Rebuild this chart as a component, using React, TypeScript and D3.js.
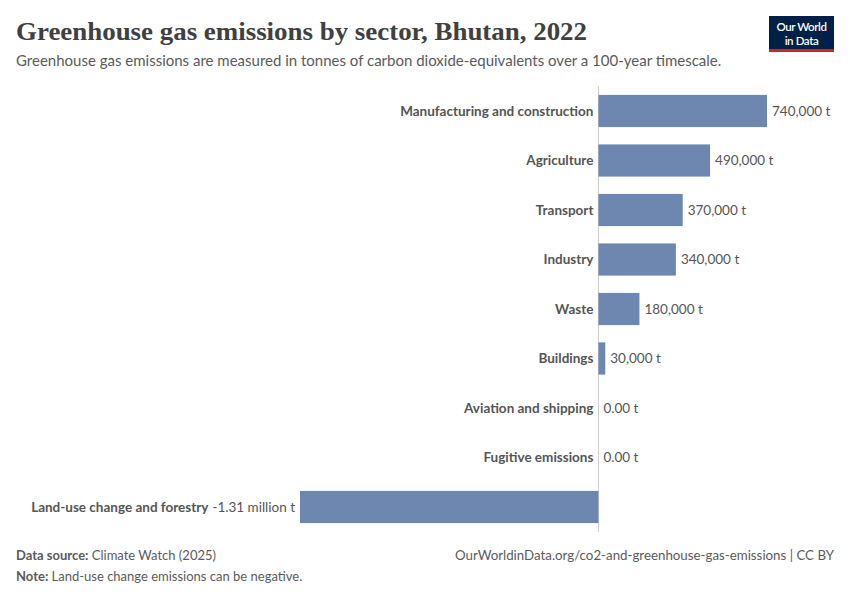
import * as d3 from 'd3'
import { useEffect, useRef } from 'react'

const sectors = [
  'Manufacturing and construction',
  'Agriculture',
  'Transport',
  'Industry',
  'Waste',
  'Buildings',
  'Aviation and shipping',
  'Fugitive emissions',
  'Land-use change and forestry',
]
const emissions = [740000, 490000, 370000, 340000, 180000, 30000, 0, 0, -1310000]
const valueLabels = [
  '740,000 t', '490,000 t', '370,000 t', '340,000 t', '180,000 t',
  '30,000 t', '0.00 t', '0.00 t', '-1.31 million t',
]

const W = 850, H = 600
const barColor = '#6d87b1'
const textColor = '#555'

export default function App() {
  const ref = useRef<SVGSVGElement | null>(null)

  useEffect(() => {
    if (!ref.current) return
    const svg = d3.select(ref.current)
    svg.selectAll('*').remove()

    // header
    svg.append('text').attr('x', 16).attr('y', 40)
      .attr('font-family', '"Liberation Serif", serif').attr('font-size', 26)
      .attr('font-weight', 700).attr('fill', '#404040')
      .attr('textLength', 571).attr('lengthAdjust', 'spacingAndGlyphs')
      .text('Greenhouse gas emissions by sector, Bhutan, 2022')
    svg.append('text').attr('x', 16).attr('y', 66)
      .attr('font-family', 'Lato, sans-serif').attr('font-size', 15)
      .attr('fill', '#5b5b5b')
      .text('Greenhouse gas emissions are measured in tonnes of carbon dioxide-equivalents over a 100-year timescale.')

    // logo
    const logo = svg.append('g').attr('transform', 'translate(769,16)')
    logo.append('rect').attr('width', 65).attr('height', 36).attr('fill', '#002147')
    logo.append('rect').attr('y', 33).attr('width', 65).attr('height', 3).attr('fill', '#ce261e')
    logo.append('text').attr('x', 32.5).attr('y', 15).attr('text-anchor', 'middle')
      .attr('font-family', 'Lato, sans-serif').attr('font-size', 11.5).attr('font-weight', 600)
      .attr('fill', '#fff').attr('letter-spacing', -0.4).text('Our World')
    logo.append('text').attr('x', 32.5).attr('y', 28.5).attr('text-anchor', 'middle')
      .attr('font-family', 'Lato, sans-serif').attr('font-size', 11.5).attr('font-weight', 600)
      .attr('fill', '#fff').attr('letter-spacing', -0.4).text('in Data')

    // chart
    const x = d3.scaleLinear().domain([-1310000, 740000]).range([300, 767])
    const y = d3.scaleBand().domain(sectors).range([86, 532]).paddingInner(0.35).paddingOuter(0.18)

    const g = svg.append('g')
    g.append('line').attr('x1', x(0)).attr('x2', x(0)).attr('y1', 86).attr('y2', 532)
      .attr('stroke', '#ccc').attr('stroke-width', 1)

    const fs = 13.5
    sectors.forEach((s, i) => {
      const v = emissions[i]
      const y0 = y(s) ?? 0
      const bh = y.bandwidth()
      const cy = y0 + bh / 2
      const x0 = Math.min(x(0), x(v)), x1 = Math.max(x(0), x(v))
      if (x1 - x0 > 0) {
        g.append('rect').attr('x', x0).attr('y', y0).attr('width', x1 - x0).attr('height', bh)
          .attr('fill', barColor)
      }
      if (v >= 0) {
        g.append('text').attr('x', x(0) - 5).attr('y', cy).attr('dy', '0.35em')
          .attr('text-anchor', 'end').attr('font-family', 'Lato, sans-serif')
          .attr('font-size', fs).attr('font-weight', 700).attr('fill', textColor).text(s)
        g.append('text').attr('x', x(v) + 5).attr('y', cy).attr('dy', '0.35em')
          .attr('font-family', 'Lato, sans-serif')
          .attr('font-size', fs).attr('fill', textColor).text(valueLabels[i])
      } else {
        const vt = g.append('text').attr('x', x(v) - 5).attr('y', cy).attr('dy', '0.35em')
          .attr('text-anchor', 'end').attr('font-family', 'Lato, sans-serif')
          .attr('font-size', fs).attr('fill', textColor).text(valueLabels[i])
        const w = (vt.node() as SVGTextElement).getComputedTextLength()
        g.append('text').attr('x', x(v) - 5 - w - 4).attr('y', cy).attr('dy', '0.35em')
          .attr('text-anchor', 'end').attr('font-family', 'Lato, sans-serif')
          .attr('font-size', fs).attr('font-weight', 700).attr('fill', textColor).text(s)
      }
    })

    // footer
    const f1 = svg.append('text').attr('x', 16).attr('y', 560)
      .attr('font-family', 'Lato, sans-serif').attr('font-size', 13).attr('fill', '#5b5b5b')
    f1.append('tspan').attr('font-weight', 700).text('Data source:')
    f1.append('tspan').text(' Climate Watch (2025)')
    svg.append('text').attr('x', 834).attr('y', 560).attr('text-anchor', 'end')
      .attr('font-family', 'Lato, sans-serif').attr('font-size', 13.3).attr('fill', '#5b5b5b')
      .text('OurWorldinData.org/co2-and-greenhouse-gas-emissions | CC BY')
    const f2 = svg.append('text').attr('x', 16).attr('y', 581)
      .attr('font-family', 'Lato, sans-serif').attr('font-size', 13).attr('fill', '#5b5b5b')
    f2.append('tspan').attr('font-weight', 700).text('Note:')
    f2.append('tspan').text(' Land-use change emissions can be negative.')
  }, [])

  return <svg ref={ref} width={W} height={H} style={{ display: 'block', margin: -8, background: '#fff' }} />
}
